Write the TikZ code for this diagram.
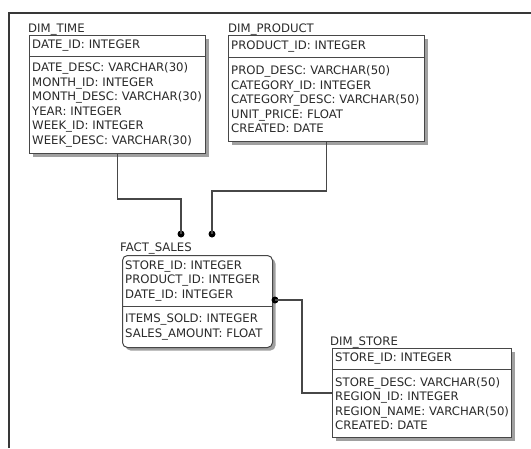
\documentclass[tikz,border=0pt]{standalone}
\usepackage{fontspec}
\setmainfont{DejaVu Sans}
\usepackage{tikz}
\usetikzlibrary{positioning, shadows}
\usepackage{xcolor}
\definecolor{ERLine}{HTML}{474747}
\definecolor{ERText}{HTML}{2A2A2A}
\definecolor{ERShadow}{HTML}{A0A0A0}
\definecolor{ERFrame}{HTML}{383838}
\newcommand{\erfont}{\fontsize{11.7}{14.5}\selectfont}
\tikzset{
    % Table styles
    tablebox/.style={
        rectangle,
        draw=ERLine,
        fill=white,
        line width=1pt,
        inner sep=0pt,
        anchor=north west,
        drop shadow={shadow xshift=3pt, shadow yshift=-3pt, fill=ERShadow, opacity=1}
    },
    fieldrows/.style={
        rectangle,
        inner xsep=3pt,
        inner ysep=0pt,
        anchor=north west,
        text width=#1,
        align=left,
        text=ERText,
        font=\erfont
    },
    tabletitle/.style={
        anchor=south west,
        inner sep=0pt,
        text=ERText,
        font=\erfont
    },
    divider/.style={
        draw=ERLine,
        line width=0.8pt
    },
    % Connector styles
    link/.style={
        draw=ERLine,
        line width=1.1pt
    },
    fkdot/.style={
        circle,
        fill=black,
        inner sep=0pt,
        minimum size=7pt
    },
    frameline/.style={
        draw=ERFrame,
        line width=1.6pt
    }
}
\begin{document}
\begin{tikzpicture}[x=1pt, y=-1pt]
    \useasboundingbox (0,0) rectangle (531,448);
    % Outer frame
    \draw[frameline] (9,448) -- (9,13) -- (531,13);

    % DIM_TIME
    \node[tablebox, minimum width=176pt, minimum height=118pt] (dimtime) at (29,35) {};
    \node[tabletitle, above right=0pt and -1pt of dimtime.north west] (timetitle) {DIM\_TIME};
    \node[fieldrows=170pt, minimum height=21pt] (timekey) at (dimtime.north west) {DATE\_ID: INTEGER};
    \node[fieldrows=170pt, minimum height=97pt, below right=0pt and 0pt of timekey.south west] (timebody) {DATE\_DESC: VARCHAR(30)\\MONTH\_ID: INTEGER\\\mbox{MONTH\_DESC: VARCHAR(30)}\\YEAR: INTEGER\\WEEK\_ID: INTEGER\\WEEK\_DESC: VARCHAR(30)};
    \draw[divider] (dimtime.west |- timekey.south) -- (dimtime.east |- timekey.south);

    % DIM_PRODUCT
    \node[tablebox, minimum width=196pt, minimum height=106pt] (dimproduct) at (228,35) {};
    \node[tabletitle, above right=0pt and 0pt of dimproduct.north west] (producttitle) {DIM\_PRODUCT};
    \node[fieldrows=190pt, minimum height=22pt] (productkey) at (dimproduct.north west) {PRODUCT\_ID: INTEGER};
    \node[fieldrows=190pt, minimum height=84pt, below right=0pt and 0pt of productkey.south west] (productbody) {PROD\_DESC: VARCHAR(50)\\CATEGORY\_ID: INTEGER\\\mbox{CATEGORY\_DESC: VARCHAR(50)}\\UNIT\_PRICE: FLOAT\\CREATED: DATE};
    \draw[divider] (dimproduct.west |- productkey.south) -- (dimproduct.east |- productkey.south);

    % FACT_SALES
    \node[tablebox, rounded corners=5pt, minimum width=150pt, minimum height=92pt] (factsales) at (122,255) {};
    \node[tabletitle, above right=1pt and -2pt of factsales.north west] (facttitle) {FACT\_SALES};
    \node[fieldrows=144pt, minimum height=51pt] (factkey) at (factsales.north west) {STORE\_ID: INTEGER\\PRODUCT\_ID: INTEGER\\DATE\_ID: INTEGER};
    \node[fieldrows=144pt, minimum height=41pt, below right=0pt and 0pt of factkey.south west] (factbody) {ITEMS\_SOLD: INTEGER\\\mbox{SALES\_AMOUNT: FLOAT}};
    \draw[divider] (factsales.west |- factkey.south) -- (factsales.east |- factkey.south);

    % DIM_STORE
    \node[tablebox, minimum width=179pt, minimum height=89pt] (dimstore) at (332,348) {};
    \node[tabletitle, above right=0pt and -2pt of dimstore.north west] (storetitle) {DIM\_STORE};
    \node[fieldrows=173pt, minimum height=21pt] (storekey) at (dimstore.north west) {STORE\_ID: INTEGER};
    \node[fieldrows=173pt, minimum height=68pt, below right=0pt and 0pt of storekey.south west] (storebody) {STORE\_DESC: VARCHAR(50)\\REGION\_ID: INTEGER\\\mbox{REGION\_NAME: VARCHAR(50)}\\CREATED: DATE};
    \draw[divider] (dimstore.west |- storekey.south) -- (dimstore.east |- storekey.south);

    % Foreign key ends
    \node[fkdot] (timedot) at (181,234) {};
    \node[fkdot] (productdot) at (212,234) {};
    \node[fkdot] (storedot) at (275,300) {};

    % Relations
    \draw[link] (dimtime.south) -- ++(0,45) -| (timedot.center);
    \draw[link] (dimproduct.south) -- ++(0,49) -| (productdot.center);
    \draw[link] (storedot.center) -- ++(27,0) |- (dimstore.west);
\end{tikzpicture}
\end{document}
